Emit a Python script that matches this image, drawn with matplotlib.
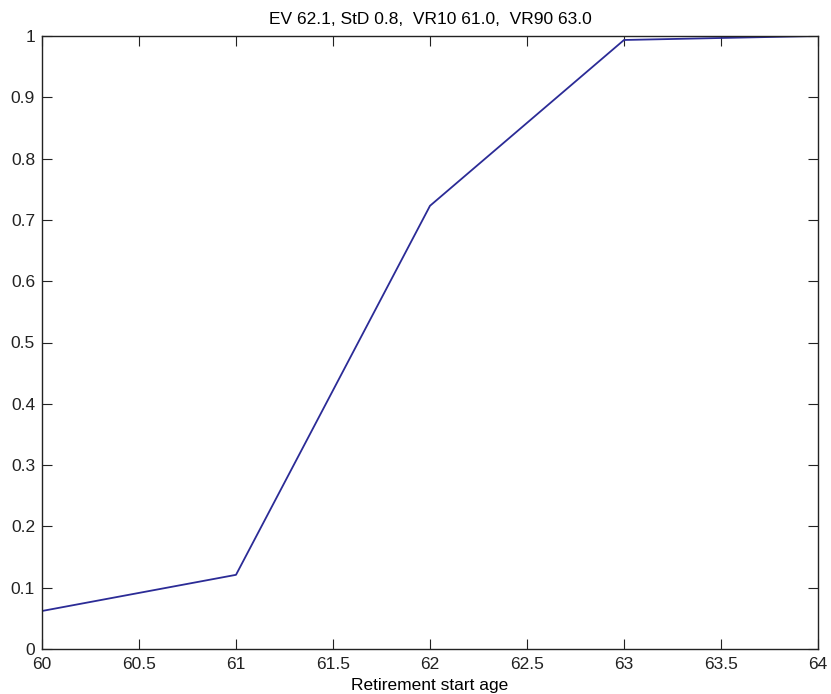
import matplotlib
matplotlib.use("Agg")
import matplotlib.pyplot as plt

# Cumulative distribution of retirement start age
ages = [60, 60, 61, 62, 63, 64]
cum_prob = [0.0, 0.062, 0.121, 0.723, 0.9935, 1.0]

x_ticks = [60, 60.5, 61, 61.5, 62, 62.5, 63, 63.5, 64]
x_tick_labels = ["60", "60.5", "61", "61.5", "62", "62.5", "63", "63.5", "64"]
y_ticks = [0, 0.1, 0.2, 0.3, 0.4, 0.5, 0.6, 0.7, 0.8, 0.9, 1.0]
y_tick_labels = ["0", "0.1", "0.2", "0.3", "0.4", "0.5", "0.6", "0.7", "0.8", "0.9", "1"]

title = "EV 62.1, StD 0.8,  VR10 61.0,  VR90 63.0"
xlabel = "Retirement start age"

plt.rcParams["font.family"] = ["Liberation Sans", "DejaVu Sans"]

fig = plt.figure(figsize=(8.31, 6.94), dpi=100)
ax = fig.add_axes([42 / 831, 1 - 649 / 694, (818 - 42) / 831, (649 - 36) / 694])

ax.plot(ages, cum_prob, color="#2b2b96", linewidth=1.3)

ax.set_xlim(60, 64)
ax.set_ylim(0, 1)
ax.set_xticks(x_ticks)
ax.set_xticklabels(x_tick_labels)
ax.set_yticks(y_ticks)
ax.set_yticklabels(y_tick_labels)

ax.tick_params(direction="in", length=7, width=0.8, colors="#222222",
               labelsize=12.5, top=True, right=True)
ax.tick_params(axis="x", pad=6)
ax.tick_params(axis="y", pad=5)
for s in ax.spines.values():
    s.set_color("#222222")
    s.set_linewidth(1.0)

ax.set_title(title, fontsize=12.5, pad=9)
ax.set_xlabel(xlabel, fontsize=12.5, labelpad=4)

fig.savefig("out.png", dpi=100, facecolor="white")
